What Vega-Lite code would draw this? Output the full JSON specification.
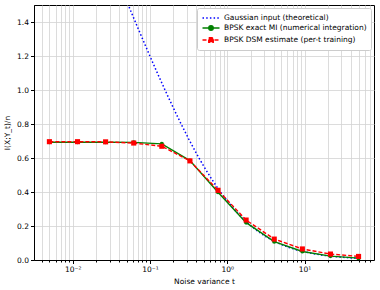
{
  "$schema": "https://vega.github.io/schema/vega-lite/v6.json",
  "width": 340,
  "height": 255,
  "autosize": {"type": "none"},
  "padding": {"left": 34, "top": 5, "right": 6, "bottom": 30},
  "background": "white",
  "config": {
    "font": "DejaVu Sans",
    "view": {"stroke": "black", "strokeWidth": 1},
    "axis": {
      "domainColor": "black",
      "tickColor": "black",
      "labelColor": "black",
      "titleColor": "black",
      "labelFontSize": 7.5,
      "titleFontSize": 7.5,
      "titleFontWeight": "normal",
      "gridColor": "#d3d3d3",
      "gridWidth": 0.8,
      "labelFont": "DejaVu Sans",
      "titleFont": "DejaVu Sans"
    },
    "legend": {"labelFont": "DejaVu Sans", "labelFontSize": 7.5, "labelColor": "black"}
  },
  "data": {
    "values": [
      {"series": "Gaussian input (theoretical)", "t": 0.04, "I": 1.629},
      {"series": "Gaussian input (theoretical)", "t": 0.05, "I": 1.522},
      {"series": "Gaussian input (theoretical)", "t": 0.0631, "I": 1.412},
      {"series": "Gaussian input (theoretical)", "t": 0.0794, "I": 1.305},
      {"series": "Gaussian input (theoretical)", "t": 0.1, "I": 1.199},
      {"series": "Gaussian input (theoretical)", "t": 0.1259, "I": 1.095},
      {"series": "Gaussian input (theoretical)", "t": 0.1585, "I": 0.995},
      {"series": "Gaussian input (theoretical)", "t": 0.1995, "I": 0.897},
      {"series": "Gaussian input (theoretical)", "t": 0.2512, "I": 0.803},
      {"series": "Gaussian input (theoretical)", "t": 0.3162, "I": 0.713},
      {"series": "Gaussian input (theoretical)", "t": 0.3981, "I": 0.628},
      {"series": "Gaussian input (theoretical)", "t": 0.5012, "I": 0.548},
      {"series": "Gaussian input (theoretical)", "t": 0.631, "I": 0.475},
      {"series": "Gaussian input (theoretical)", "t": 0.7943, "I": 0.407},
      {"series": "Gaussian input (theoretical)", "t": 1.0, "I": 0.347},
      {"series": "Gaussian input (theoretical)", "t": 1.259, "I": 0.292},
      {"series": "Gaussian input (theoretical)", "t": 1.585, "I": 0.245},
      {"series": "Gaussian input (theoretical)", "t": 1.995, "I": 0.203},
      {"series": "Gaussian input (theoretical)", "t": 2.512, "I": 0.168},
      {"series": "Gaussian input (theoretical)", "t": 3.162, "I": 0.137},
      {"series": "Gaussian input (theoretical)", "t": 3.981, "I": 0.112},
      {"series": "Gaussian input (theoretical)", "t": 5.012, "I": 0.091},
      {"series": "Gaussian input (theoretical)", "t": 6.31, "I": 0.0736},
      {"series": "Gaussian input (theoretical)", "t": 7.943, "I": 0.0593},
      {"series": "Gaussian input (theoretical)", "t": 10.0, "I": 0.0477},
      {"series": "Gaussian input (theoretical)", "t": 12.59, "I": 0.0382},
      {"series": "Gaussian input (theoretical)", "t": 15.85, "I": 0.0306},
      {"series": "Gaussian input (theoretical)", "t": 19.95, "I": 0.0245},
      {"series": "Gaussian input (theoretical)", "t": 25.12, "I": 0.0195},
      {"series": "Gaussian input (theoretical)", "t": 31.62, "I": 0.0156},
      {"series": "Gaussian input (theoretical)", "t": 39.81, "I": 0.0124},
      {"series": "Gaussian input (theoretical)", "t": 50.0, "I": 0.0099},
      {"series": "BPSK exact MI (numerical integration)", "t": 0.005, "I": 0.693},
      {"series": "BPSK exact MI (numerical integration)", "t": 0.01155, "I": 0.693},
      {"series": "BPSK exact MI (numerical integration)", "t": 0.02668, "I": 0.693},
      {"series": "BPSK exact MI (numerical integration)", "t": 0.06164, "I": 0.692},
      {"series": "BPSK exact MI (numerical integration)", "t": 0.1424, "I": 0.683},
      {"series": "BPSK exact MI (numerical integration)", "t": 0.3289, "I": 0.585},
      {"series": "BPSK exact MI (numerical integration)", "t": 0.7598, "I": 0.399},
      {"series": "BPSK exact MI (numerical integration)", "t": 1.755, "I": 0.22},
      {"series": "BPSK exact MI (numerical integration)", "t": 4.055, "I": 0.108},
      {"series": "BPSK exact MI (numerical integration)", "t": 9.368, "I": 0.05},
      {"series": "BPSK exact MI (numerical integration)", "t": 21.64, "I": 0.023},
      {"series": "BPSK exact MI (numerical integration)", "t": 50.0, "I": 0.011},
      {"series": "BPSK DSM estimate (per-t training)", "t": 0.005, "I": 0.696},
      {"series": "BPSK DSM estimate (per-t training)", "t": 0.01155, "I": 0.696},
      {"series": "BPSK DSM estimate (per-t training)", "t": 0.02668, "I": 0.695},
      {"series": "BPSK DSM estimate (per-t training)", "t": 0.06164, "I": 0.688},
      {"series": "BPSK DSM estimate (per-t training)", "t": 0.1424, "I": 0.669},
      {"series": "BPSK DSM estimate (per-t training)", "t": 0.3289, "I": 0.583},
      {"series": "BPSK DSM estimate (per-t training)", "t": 0.7598, "I": 0.41},
      {"series": "BPSK DSM estimate (per-t training)", "t": 1.755, "I": 0.235},
      {"series": "BPSK DSM estimate (per-t training)", "t": 4.055, "I": 0.123},
      {"series": "BPSK DSM estimate (per-t training)", "t": 9.368, "I": 0.065},
      {"series": "BPSK DSM estimate (per-t training)", "t": 21.64, "I": 0.035},
      {"series": "BPSK DSM estimate (per-t training)", "t": 50.0, "I": 0.021}
    ]
  },
  "encoding": {
    "x": {
      "field": "t",
      "type": "quantitative",
      "title": "Noise variance t",
      "scale": {"type": "log", "domain": [0.00316, 79.2], "nice": false},
      "axis": {
        "values": [0.004, 0.005, 0.006, 0.007, 0.008, 0.009, 0.01, 0.02, 0.03, 0.04, 0.05, 0.06, 0.07, 0.08, 0.09, 0.1, 0.2, 0.3, 0.4, 0.5, 0.6, 0.7, 0.8, 0.9, 1, 2, 3, 4, 5, 6, 7, 8, 9, 10, 20, 30, 40, 50, 60, 70],
        "labelExpr": "datum.value == 0.01 ? '10⁻²' : datum.value == 0.1 ? '10⁻¹' : datum.value == 1 ? '10⁰' : datum.value == 10 ? '10¹' : ''",
        "labelOverlap": false,
        "labelFlush": false,
        "tickSize": {"condition": {"test": "datum.value == 0.01 || datum.value == 0.1 || datum.value == 1 || datum.value == 10", "value": 3.5}, "value": 2},
        "labelPadding": 2,
        "titlePadding": 4,
        "grid": true
      }
    },
    "y": {
      "field": "I",
      "type": "quantitative",
      "title": "I(X;Y_t)/n",
      "scale": {"domain": [0, 1.5], "nice": false},
      "axis": {
        "values": [0, 0.2, 0.4, 0.6, 0.8, 1.0, 1.2, 1.4],
        "format": ".1f",
        "tickSize": 3.5,
        "labelPadding": 2,
        "titlePadding": 5,
        "grid": true
      }
    },
    "color": {
      "field": "series",
      "type": "nominal",
      "scale": {
        "domain": ["Gaussian input (theoretical)", "BPSK exact MI (numerical integration)", "BPSK DSM estimate (per-t training)"],
        "range": ["#0000ff", "#008000", "#ff0000"]
      },
      "legend": {
        "title": null,
        "orient": "top-right",
        "offset": 3,
        "padding": 4,
        "strokeColor": "#cccccc",
        "fillColor": "white",
        "cornerRadius": 2,
        "symbolSize": 100,
        "symbolOffset": 4,
        "symbolStrokeWidth": 1.4,
        "rowPadding": 0,
        "labelOffset": 7,
        "labelFontSize": 7.5,
        "encode": {
          "symbols": {
            "update": {
              "shape": {"signal": "datum.value == 'Gaussian input (theoretical)' ? 'M-1.7,0H1.7' : datum.value == 'BPSK exact MI (numerical integration)' ? 'M-1.7,0H1.7M-0.45,0A0.45,0.45,0,1,0,0.45,0A0.45,0.45,0,1,0,-0.45,0Z' : 'M-1.7,0H1.7M-0.45,-0.45H0.45V0.45H-0.45Z'"},
              "fill": {"signal": "datum.value == 'Gaussian input (theoretical)' ? 'transparent' : datum.value == 'BPSK exact MI (numerical integration)' ? '#008000' : '#ff0000'"},
              "stroke": {"signal": "datum.value == 'Gaussian input (theoretical)' ? '#0000ff' : datum.value == 'BPSK exact MI (numerical integration)' ? '#008000' : '#ff0000'"},
              "strokeDash": {"signal": "datum.value == 'Gaussian input (theoretical)' ? [1.5, 2.2] : datum.value == 'BPSK exact MI (numerical integration)' ? [] : [4, 2]"},
              "opacity": {"value": 1},
              "fillOpacity": {"value": 1}
            }
          }
        }
      }
    }
  },
  "layer": [
    {
      "transform": [{"filter": "datum.series == 'Gaussian input (theoretical)'"}],
      "mark": {"type": "line", "clip": true, "strokeWidth": 1.5, "strokeDash": [1.5, 2.2]}
    },
    {
      "transform": [{"filter": "datum.series == 'BPSK exact MI (numerical integration)'"}],
      "mark": {"type": "line", "clip": true, "strokeWidth": 1.4}
    },
    {
      "transform": [{"filter": "datum.series == 'BPSK exact MI (numerical integration)'"}],
      "mark": {"type": "point", "clip": true, "shape": "circle", "filled": true, "size": 18, "opacity": 1}
    },
    {
      "transform": [{"filter": "datum.series == 'BPSK DSM estimate (per-t training)'"}],
      "mark": {"type": "line", "clip": true, "strokeWidth": 1.4, "strokeDash": [4, 2]}
    },
    {
      "transform": [{"filter": "datum.series == 'BPSK DSM estimate (per-t training)'"}],
      "mark": {"type": "point", "clip": true, "shape": "square", "filled": true, "size": 26, "opacity": 1}
    }
  ]
}
